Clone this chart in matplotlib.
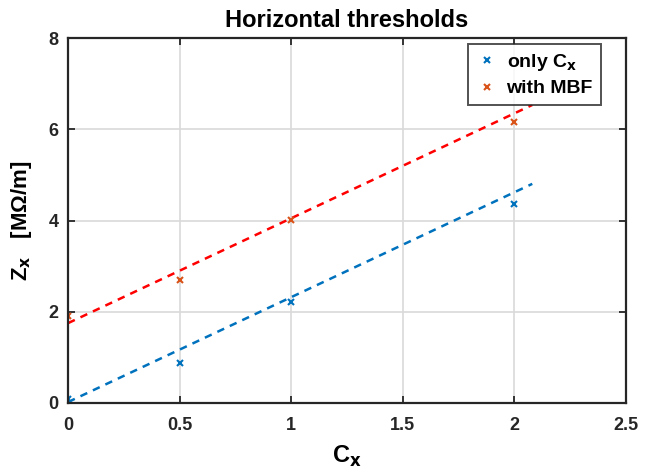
import matplotlib
matplotlib.use('Agg')
import matplotlib.pyplot as plt
import numpy as np

# measured points
cx = [0, 0.5, 1, 2]
z_only = [0.08, 0.87, 2.22, 4.37]
z_mbf = [1.9, 2.7, 4.02, 6.15]

# fitted lines (slope, intercept)
fit_only = (2.30, 0.02)
fit_mbf = (2.30, 1.75)
fit_xmax = 2.08

blue = (0, 0.447, 0.741)
orange = (0.85, 0.325, 0.098)

plt.rcParams['font.family'] = 'Liberation Sans'
plt.rcParams['font.weight'] = 'bold'
plt.rcParams['mathtext.default'] = 'bf'

fig = plt.figure(figsize=(6.49, 4.76), dpi=100)
ax = fig.add_axes([0.1048, 0.1534, 0.8598, 0.7666])

xf = np.linspace(0, fit_xmax, 50)
ax.plot(xf, np.polyval(fit_only, xf), '--', color=blue, lw=1.8, dashes=(3, 2.5))
ax.plot(xf, np.polyval(fit_mbf, xf), '--', color='red', lw=1.8, dashes=(3, 2.5))
ax.plot(cx, z_only, 'x', color=blue, ms=5, mew=1.5, label='only C$_\\mathbf{x}$')
ax.plot(cx, z_mbf, 'x', color=orange, ms=5, mew=1.5, label='with MBF')

ax.set_xlim(0, 2.5)
ax.set_ylim(0, 8)
ax.set_xticks([0, 0.5, 1, 1.5, 2, 2.5])
ax.set_xticklabels(['0', '0.5', '1', '1.5', '2', '2.5'])
ax.set_yticks([0, 2, 4, 6, 8])
ax.grid(True, color='#d9d9d9', lw=1.2)
ax.set_axisbelow(True)
for s in ax.spines.values():
    s.set_linewidth(1.6)
    s.set_color('#262626')
ax.tick_params(direction='in', top=True, right=True, length=5, width=1.3,
               labelsize=13, colors='#262626', pad=7)
ax.tick_params(axis='x', pad=10)
for lb in ax.get_xticklabels() + ax.get_yticklabels():
    lb.set_fontweight('bold')

ax.set_title('Horizontal thresholds', fontsize=17, fontweight='bold', pad=8)
ax.set_xlabel('C$_\\mathbf{x}$', fontsize=17, fontweight='bold', labelpad=7)
ax.set_ylabel('Z$_\\mathbf{x}$   [M\u03a9/m]', fontsize=16, fontweight='bold', labelpad=10)

leg = ax.legend(loc='upper right', bbox_to_anchor=(0.972, 1.01), fancybox=False,
                edgecolor='#262626', fontsize=14, handlelength=1.2,
                handletextpad=0.4, borderpad=0.4, labelspacing=0.35)
leg.get_frame().set_linewidth(1.4)
for t in leg.get_texts():
    t.set_fontweight('bold')

fig.savefig('out.png', dpi=100)
